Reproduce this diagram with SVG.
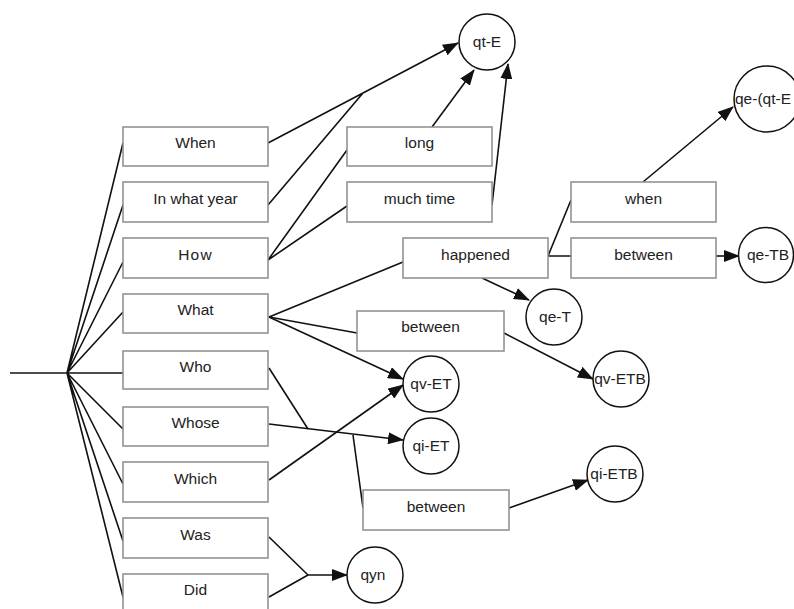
<svg xmlns="http://www.w3.org/2000/svg" width="794" height="609" viewBox="0 0 794 609">
<style>
.box rect{fill:#fff;stroke:#8c8c8c;stroke-width:1.5}
.circ circle{fill:#fff;stroke:#111;stroke-width:1.5}
text{font-family:"Liberation Sans",Arial,sans-serif;font-size:15.5px;fill:#222;text-anchor:middle}
.ln{fill:none;stroke:#111;stroke-width:1.6}
.ar{fill:none;stroke:#111;stroke-width:1.6;marker-end:url(#ah)}
</style>
<defs>
<marker id="ah" markerUnits="userSpaceOnUse" markerWidth="16" markerHeight="12" viewBox="0 0 16 12" refX="15" refY="6" orient="auto">
<path d="M0,0 L16,6 L0,12 Z" fill="#111"/>
</marker>
</defs>
<g id="connectors">
<path class="ln" d="M10,373 L67,373"/>
<path class="ln" d="M67,373 L123,143 M67,373 L123,205 M67,373 L123,262 M67,373 L123,312 M67,373 L123,373 M67,373 L123,429 M67,373 L123,484 M67,373 L123,541 M67,373 L123,597"/>
<path class="ln" d="M268,143 L363,93 M268,205 L363,93"/>
<path class="ar" d="M363,93 L458,43"/>
<path class="ln" d="M268,260 L347,150 M268,260 L347,206"/>
<path class="ar" d="M432,127 L474,70"/>
<path class="ar" d="M492,205 L508,64"/>
<path class="ln" d="M269,317 L403,262 M269,317 L357,333"/>
<path class="ar" d="M269,317 L403,379"/>
<path class="ln" d="M548,256 L571,200 M548,256 L571,256"/>
<path class="ar" d="M643,182 L733,107"/>
<path class="ar" d="M716,256 L739,256"/>
<path class="ar" d="M482,278 L529,300"/>
<path class="ar" d="M504,333 L593,379"/>
<path class="ar" d="M269,480 L403,385"/>
<path class="ln" d="M269,368 L308,429"/>
<path class="ar" d="M269,424 L403,440"/>
<path class="ln" d="M353,435 L363,508"/>
<path class="ar" d="M509,508 L588,480"/>
<path class="ln" d="M269,537 L308,575 M269,597 L308,575"/>
<path class="ar" d="M308,575 L347,575"/>
</g>
<g id="n-when" class="box"><rect x="123" y="127" width="145" height="39"/><text x="195.5" y="148">When</text></g>
<g id="n-inwhatyear" class="box"><rect x="123" y="182" width="145" height="40"/><text x="195.5" y="204">In what year</text></g>
<g id="n-how" class="box"><rect x="123" y="238" width="145" height="40"/><text x="195.5" y="260" letter-spacing="1.2">How</text></g>
<g id="n-what" class="box"><rect x="123" y="294" width="145" height="39"/><text x="195.5" y="315">What</text></g>
<g id="n-who" class="box"><rect x="123" y="351" width="145" height="38"/><text x="195.5" y="372">Who</text></g>
<g id="n-whose" class="box"><rect x="123" y="407" width="145" height="39"/><text x="195.5" y="428">Whose</text></g>
<g id="n-which" class="box"><rect x="123" y="462" width="145" height="40"/><text x="195.5" y="484">Which</text></g>
<g id="n-was" class="box"><rect x="123" y="518" width="145" height="40"/><text x="195.5" y="540">Was</text></g>
<g id="n-did" class="box"><rect x="123" y="574" width="145" height="40"/><text x="195.5" y="595">Did</text></g>
<g id="n-long" class="box"><rect x="347" y="127" width="145" height="39"/><text x="419.5" y="148">long</text></g>
<g id="n-muchtime" class="box"><rect x="347" y="182" width="145" height="40"/><text x="419.5" y="204">much time</text></g>
<g id="n-happened" class="box"><rect x="403" y="238" width="145" height="40"/><text x="475.5" y="260">happened</text></g>
<g id="n-between1" class="box"><rect x="357" y="311" width="147" height="40"/><text x="430.5" y="332">between</text></g>
<g id="n-between2" class="box"><rect x="363" y="490" width="146" height="40"/><text x="436" y="512">between</text></g>
<g id="n-when2" class="box"><rect x="571" y="182" width="145" height="40"/><text x="643.5" y="204">when</text></g>
<g id="n-between3" class="box"><rect x="571" y="238" width="145" height="40"/><text x="643.5" y="260">between</text></g>
<g id="n-qtE" class="circ"><circle cx="487" cy="42" r="28"/><text x="487" y="47">qt-E</text></g>
<g id="n-qeqtE" class="circ"><circle cx="767" cy="99" r="33"/><text x="763" y="104">qe-(qt-E</text></g>
<g id="n-qeTB" class="circ"><circle cx="766" cy="255" r="27.5"/><text x="768" y="260">qe-TB</text></g>
<g id="n-qeT" class="circ"><circle cx="554" cy="317" r="28"/><text x="555" y="322">qe-T</text></g>
<g id="n-qvET" class="circ"><circle cx="431" cy="384" r="28"/><text x="431" y="389">qv-ET</text></g>
<g id="n-qiET" class="circ"><circle cx="431" cy="446" r="28"/><text x="431" y="451">qi-ET</text></g>
<g id="n-qvETB" class="circ"><circle cx="621" cy="379" r="28"/><text x="620" y="384">qv-ETB</text></g>
<g id="n-qiETB" class="circ"><circle cx="615" cy="474" r="28"/><text x="614" y="479">qi-ETB</text></g>
<g id="n-qyn" class="circ"><circle cx="375" cy="575" r="28"/><text x="373" y="580">qyn</text></g>
</svg>
